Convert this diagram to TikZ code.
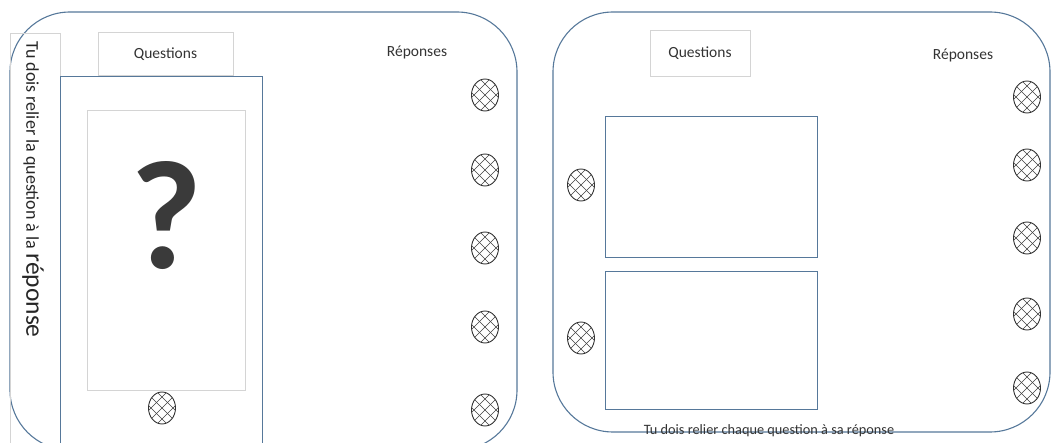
\documentclass[tikz,border=0pt]{standalone}
\usepackage{fontspec}
\setmainfont{Carlito}
\usetikzlibrary{shapes.geometric}
\definecolor{panelblue}{HTML}{56789A}
\definecolor{boxgray}{HTML}{D4D4D4}
\definecolor{qgray}{HTML}{3A3A3A}
\tikzset{
  panel/.style={draw=panelblue, line width=1.1pt, rounded corners=60pt},
  graybox/.style={draw=boxgray, line width=0.8pt},
  bluebox/.style={draw=panelblue, line width=1pt},
  lbl/.style={font=\fontsize{15.5}{17}\selectfont, text=black!80},
  hatch/.style={ellipse, draw=black!80, line width=0.9pt, minimum width=27pt, minimum height=32pt, inner sep=0pt,
    path picture={
      \foreach \k in {-3,...,3}{
        \draw[line width=0.6pt, black!75] ([xshift=\k*11pt]path picture bounding box.center) ++(-22pt,-22pt) -- ++(44pt,44pt);
        \draw[line width=0.6pt, black!75] ([xshift=\k*11pt]path picture bounding box.center) ++(-22pt,22pt) -- ++(44pt,-44pt);
      }
    }}
}
\begin{document}
\begin{tikzpicture}[x=1pt,y=-1pt]
\useasboundingbox (0,0) rectangle (1053,443);
\begin{scope}
\clip (0,0) rectangle (1053,443);
% left panel
\draw[panel] (10,12) rectangle (517,450);
% vertical text box
\draw[graybox] (10,33) rectangle (60,460);
\node[rotate=-90, anchor=west, text=black!85] (vt) at (33,38) {\fontsize{18}{20}\selectfont Tu dois relier la question à la \fontsize{25.5}{27}\selectfont réponse};
% questions box left
\node[graybox, minimum width=135pt, minimum height=43pt, inner sep=0pt] (q1) at (165.5,54) {};
\node[lbl] at (q1.center) {Questions};
% big blue rect
\draw[bluebox, fill=white] (60,77) rectangle (262,460);
\node[graybox, minimum width=158pt, minimum height=280pt, inner sep=0pt] (inner) at (166,250) {};
\node[text=qgray, font=\fontsize{155}{155}\selectfont\bfseries, inner sep=0pt] (qm) at (166,216) {?};
\node[hatch] (l0) at (162,408) {};
\node[lbl] (r1) at (417,52) {Réponses};
\node[hatch] (la) at (485,95) {};
\node[hatch] (lb) at (485,170) {};
\node[hatch] (lc) at (485,248) {};
\node[hatch] (ld) at (485,327) {};
\node[hatch] (le) at (485,410) {};
% right panel
\draw[panel] (553,12) rectangle (1050,432);
\node[graybox, minimum width=100pt, minimum height=46pt, inner sep=0pt] (q2) at (700,53) {};
\node[lbl] at (q2.center) {Questions};
\node[lbl] (r2) at (963,55) {Réponses};
\node[bluebox, minimum width=212pt, minimum height=141pt, inner sep=0pt] (b1) at (711,187.5) {};
\node[bluebox, minimum width=212pt, minimum height=138pt, inner sep=0pt] (b2) at (711,341) {};
\node[hatch] (p1) at (581,185) {};
\node[hatch] (p2) at (581,338) {};
\node[hatch] (ra) at (1027,97) {};
\node[hatch] (rb) at (1027,165) {};
\node[hatch] (rc) at (1027,238) {};
\node[hatch] (rd) at (1027,314) {};
\node[hatch] (re) at (1027,388) {};
\node[font=\fontsize{14.3}{16}\selectfont, text=black!80, inner sep=0pt] (bt) at (769,431) {Tu dois relier chaque question à sa réponse};
\end{scope}
\end{tikzpicture}
\end{document}
